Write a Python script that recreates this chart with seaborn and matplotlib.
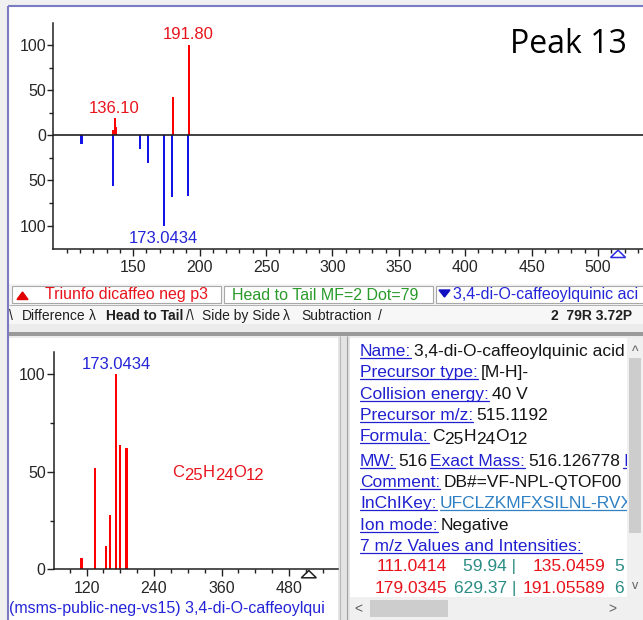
import numpy as np
import pandas as pd
import matplotlib
matplotlib.use("Agg")
import matplotlib.pyplot as plt
from matplotlib.patches import Rectangle, Polygon
from matplotlib.lines import Line2D
from matplotlib.transforms import Bbox
import seaborn as sns

# ---------------- data ----------------
query_mz = [135.0, 136.10, 137.2, 179.9, 191.80]          # unknown (red, head)
query_int = [6, 19, 9, 43, 100]
lib_mz = [111.0414, 135.0459, 155.03, 161.02, 173.0434, 179.0345, 191.05589]
lib_int_tail = [9, 56, 15, 31, 100, 68, 67]               # library (blue, tail)
lib_int = [6, 52, 12, 28, 100, 64, 62]                   # library spectrum (bottom)
precursor_mz = 515.1192
top_xticks = [150, 200, 250, 300, 350, 400, 450, 500]
top_yticks = [-100, -50, 0, 50, 100]
top_yticklabels = ["100", "50", "0", "50", "100"]
bot_xticks = [120, 240, 360, 480]
bot_yticks = [0, 50, 100]
head_labels = ["136.10", "191.80"]
tail_label = "173.0434"
formula = [("C", 0), ("25", 1), ("H", 0), ("24", 1), ("O", 0), ("12", 1)]
peak_table = [("111.0414", "59.94 |", "135.0459", "5"),
              ("179.0345", "629.37 |", "191.05589", "6")]

sns.set_style("ticks")
plt.rcParams["font.family"] = ["Liberation Sans", "DejaVu Sans"]

RED_BAR, BLUE_BAR = "#ff0000", "#1414e6"
RED_TXT, BLUE_TXT = "#e8141c", "#2424d8"
GREEN_TXT, TEAL_TXT = "#2a9a2a", "#2a8c84"
LINK = "#2020d0"

W, H, DPI = 643, 620, 100
fig = plt.figure(figsize=(W / DPI, H / DPI), dpi=DPI)
fig.patch.set_facecolor("#f0f0f0")


def rect(x0, y0, x1, y1):
    return [x0 / W, 1 - y1 / H, (x1 - x0) / W, (y1 - y0) / H]


bg = fig.add_axes([0, 0, 1, 1], zorder=0)
bg.set_xlim(0, W)
bg.set_ylim(H, 0)
bg.axis("off")


def box(x0, y0, x1, y1, fc, ec="none", lw=0.0, z=1):
    bg.add_patch(Rectangle((x0, y0), x1 - x0, y1 - y0, facecolor=fc,
                           edgecolor=ec, linewidth=lw, zorder=z))


def seg(x0, y0, x1, y1, c, lw=0.8, z=2):
    bg.add_line(Line2D([x0, x1], [y0, y1], color=c, lw=lw, zorder=z,
                       solid_capstyle="butt"))


# ---- window chrome ----
box(9, 7, 643, 284, "white")                      # top spectrum panel
box(9, 284, 643, 305, "#f4f4f4")                  # legend strip
box(12, 286, 221, 303, "white", "#a8a8a8", 0.8, 2)
box(224, 286, 433, 303, "white", "#a8a8a8", 0.8, 2)
box(436, 286, 650, 303, "white", "#a8a8a8", 0.8, 2)
box(9, 305, 643, 324, "#f7f7f7")                  # tab row
seg(9, 305, 643, 305, "#b0b0b0", 0.7)
box(9, 324, 643, 338, "#ececec")
box(9, 332, 643, 336, "#9a9a9a")
box(9, 338, 338, 620, "white")                    # bottom-left spectrum
box(338, 336, 350, 620, "#e4e4e4")
seg(340, 336, 340, 620, "#b8b8b8", 0.8)
seg(347, 336, 347, 620, "#a0a0a0", 0.8)
box(350, 338, 627, 597, "white")                  # info text panel
box(627, 338, 643, 597, "#f0f0f0")                # vertical scrollbar
box(629, 358, 641, 533, "#cdcdcd")
box(350, 597, 643, 620, "#f0f0f0")                # horizontal scrollbar
box(370, 600, 448, 617, "#cdcdcd")
bg.text(635, 352, "^", ha="center", va="center", fontsize=10, color="#606060")
bg.text(635, 586, "v", ha="center", va="center", fontsize=9, color="#606060")
bg.text(358, 609, "<", ha="center", va="center", fontsize=10, color="#606060")
bg.text(612, 609, ">", ha="center", va="center", fontsize=10, color="#606060")
seg(8, 6, 643, 6, "#7b7bc4", 1.5, 3)
seg(8, 6, 8, 620, "#7b7bc4", 1.5, 3)

R = fig.canvas.get_renderer()


def write(x, y, parts, fs=12, clip=None, weight="normal"):
    """parts: (text, color, underline, baseline shift px, gap before px)"""
    for s, color, ul, dy, gap in parts:
        x += gap
        t = bg.text(x, y + dy, s, color=color, fontsize=fs, ha="left",
                    va="baseline", fontweight=weight, zorder=6)
        if clip is not None:
            t.set_clip_box(clip)
            t.set_clip_on(True)
        bb = t.get_window_extent(R)
        xe = bb.x1
        if ul:
            ln = Line2D([x, xe], [y + 2.3, y + 2.3], color=color, lw=0.9, zorder=6)
            bg.add_line(ln)
            if clip is not None:
                ln.set_clip_box(clip)
                ln.set_clip_on(True)
        x = xe
    return x


# ---- legend strip ----
bg.add_patch(Polygon([(17, 299.5), (28, 299.5), (22.5, 292)], closed=True,
                     color="#e00000", zorder=4))
bg.text(45, 299.5, "Triunfo dicaffeo neg p3", color=RED_TXT, fontsize=11.5,
        va="baseline", zorder=4)
bg.text(232, 299.5, "Head to Tail MF=2 Dot=79", color=GREEN_TXT, fontsize=11.5,
        va="baseline", zorder=4)
bg.add_patch(Polygon([(439, 290), (450, 290), (444.5, 297)], closed=True,
                     color="#1010c0", zorder=4))
clip_leg = Bbox.from_extents(436, H - 303, 643, H - 286)
write(453, 299.5, [("3,4-di-O-caffeoylquinic aci", BLUE_TXT, False, 0, 0)],
      fs=11.5, clip=clip_leg)

# ---- tab row ----
for xx, s, w in [(9, "\\", "normal"), (22, "Difference", "normal"),
                 (89, "\u03bb", "normal"), (106, "Head to Tail", "bold"),
                 (186, "/\\", "normal"), (202, "Side by Side", "normal"),
                 (283, "\u03bb", "normal"), (301, "Subtraction", "normal"),
                 (378, "/", "normal")]:
    bg.text(xx, 320, s, fontsize=10, fontweight=w, va="baseline", color="#202020", zorder=4)
bg.text(632, 320, "2  79R 3.72P", fontsize=10, fontweight="bold", ha="right",
        va="baseline", color="#202020", zorder=4)

bg.text(510, 53, "Peak 13", fontsize=23, family=["Open Sans", "DejaVu Sans"],
        color="black", va="baseline", zorder=4)


def stems(ax, mz, inten, color, width_units):
    df = pd.DataFrame({"mz": mz, "rel": inten})
    mind = np.min(np.diff(np.unique(df["mz"])))
    sns.barplot(data=df, x="mz", y="rel", native_scale=True,
                width=width_units / mind, color=color, saturation=1,
                errorbar=None, linewidth=0, ax=ax)


# ---- top head-to-tail axes ----
ax1 = fig.add_axes(rect(53, 22.7, 643, 249), zorder=2)
ax1.patch.set_visible(False)
stems(ax1, query_mz, query_int, RED_BAR, 1.6)
stems(ax1, lib_mz, [-v for v in lib_int_tail], BLUE_BAR, 1.6)
ax1.axhline(0, color="#202020", lw=1.2, zorder=3)
ax1.set_xlim(89.6, 533.9)
ax1.set_ylim(-126, 125)
ax1.set_xticks(top_xticks)
ax1.set_xticks(np.arange(100, 540, 10), minor=True)
ax1.set_yticks(top_yticks)
ax1.set_yticklabels(top_yticklabels)
ax1.set_yticks([-75, -25, 25, 75], minor=True)
ax1.tick_params(axis="both", which="major", labelsize=11.5, width=1, color="#202020")
ax1.tick_params(axis="x", which="major", length=5, pad=3)
ax1.tick_params(axis="y", which="major", length=4, pad=1)
ax1.tick_params(axis="both", which="minor", length=3, width=1, color="#202020")
for s in ["top", "right"]:
    ax1.spines[s].set_visible(False)
for s in ["left", "bottom"]:
    ax1.spines[s].set_linewidth(1.1)
    ax1.spines[s].set_color("#202020")
ax1.set_xlabel("")
ax1.set_ylabel("")
ax1.text(135.8, 21.5, head_labels[0], color=RED_TXT, fontsize=12, ha="center", va="bottom")
ax1.text(191.4, 103.5, head_labels[1], color=RED_TXT, fontsize=12, ha="center", va="bottom")
ax1.text(172.4, -106.5, tail_label, color=BLUE_TXT, fontsize=12, ha="center", va="top")

# ---- bottom library spectrum axes ----
ax2 = fig.add_axes(rect(54, 351.7, 338, 569.3), zorder=2)
ax2.patch.set_visible(False)
stems(ax2, lib_mz, lib_int, RED_BAR, 3.8)
ax2.set_xlim(62.2, 567)
ax2.set_ylim(0, 111.6)
ax2.set_xticks(bot_xticks)
ax2.set_xticks(np.arange(90, 567, 30), minor=True)
ax2.set_yticks(bot_yticks)
ax2.set_yticks([25, 75], minor=True)
ax2.tick_params(axis="both", which="major", labelsize=11.5, width=1, color="#202020")
ax2.tick_params(axis="x", which="major", length=5, pad=3.5)
ax2.tick_params(axis="y", which="major", length=5, pad=1)
ax2.tick_params(axis="both", which="minor", length=3, width=1, color="#202020")
for s in ["top", "right"]:
    ax2.spines[s].set_visible(False)
for s in ["left", "bottom"]:
    ax2.spines[s].set_linewidth(1.1)
    ax2.spines[s].set_color("#202020")
ax2.set_xlabel("")
ax2.set_ylabel("")
ax2.text(172.4, 104.8, tail_label, color=BLUE_TXT, fontsize=12, ha="center", va="center")

# precursor markers (hollow triangles just under the axes)
for ax, col, hw in [(ax1, "#2a2ae0", 7.5), (ax2, "#202020", 7.5)]:
    px, py = ax.transData.transform((precursor_mz, ax.get_ylim()[0]))
    py = H - py
    bg.add_patch(Polygon([(px - hw, py + 8.5), (px + hw, py + 8.5), (px, py + 1.2)],
                         closed=True, facecolor="none", edgecolor=col, lw=1.1, zorder=5))

# formula in the bottom spectrum
fx, fy = ax2.transData.transform((272, 50))
write(fx, H - fy + 5, [(s, RED_TXT, False, 3 * sub, 0) for s, sub in formula], fs=12)

clip_bl = Bbox.from_extents(9, H - 620, 338, H - 338)
write(9, 613, [("(msms-public-neg-vs15) 3,4-di-O-caffeoylqui", BLUE_TXT, False, 0, 0)],
      fs=11.5, clip=clip_bl)

# ---- info panel ----
clip_r = Bbox.from_extents(350, H - 597, 627, H - 338)
K = "#151515"
FS = 12.5
rows = [
    (356, [("Name:", LINK, True, 0, 0), ("3,4-di-O-caffeoylquinic acid", K, False, 0, 3)]),
    (377, [("Precursor type:", LINK, True, 0, 0), ("[M-H]-", K, False, 0, 3)]),
    (399, [("Collision energy:", LINK, True, 0, 0), ("40 V", K, False, 0, 3)]),
    (420, [("Precursor m/z:", LINK, True, 0, 0), ("515.1192", K, False, 0, 3)]),
    (441, [("Formula:", LINK, True, 0, 0)] +
          [(s, K, False, 3 * sub, 3 if i == 0 else 0) for i, (s, sub) in enumerate(formula)]),
    (466, [("MW:", LINK, True, 0, 0), ("516", K, False, 0, 3),
           ("Exact Mass:", LINK, True, 0, 3), ("516.126778", K, False, 0, 3),
           ("I", LINK, True, 0, 3)]),
    (487, [("Comment:", LINK, True, 0, 0), ("DB#=VF-NPL-QTOF00", K, False, 0, 3)]),
    (508, [("InChIKey:", LINK, True, 0, 0),
           ("UFCLZKMFXSILNL-RVX", "#2f80c4", True, 0, 3)]),
    (530, [("Ion mode:", LINK, True, 0, 0), ("Negative", K, False, 0, 3)]),
    (551, [("7 m/z Values and Intensities:", LINK, True, 0, 0)]),
]
for y, parts in rows:
    write(360, y, parts, fs=FS, clip=clip_r)

for y, (m1, i1, m2, i2) in zip([571, 593], peak_table):
    for xx, s, c, ha in [(447, m1, RED_TXT, "right"), (516, i1, TEAL_TXT, "right"),
                         (605, m2, RED_TXT, "right"), (614, i2, TEAL_TXT, "left")]:
        t = bg.text(xx, y, s, color=c, fontsize=FS, ha=ha, va="baseline", zorder=6)
        t.set_clip_box(clip_r)
        t.set_clip_on(True)

fig.savefig("out.png", dpi=DPI, facecolor=fig.get_facecolor())
